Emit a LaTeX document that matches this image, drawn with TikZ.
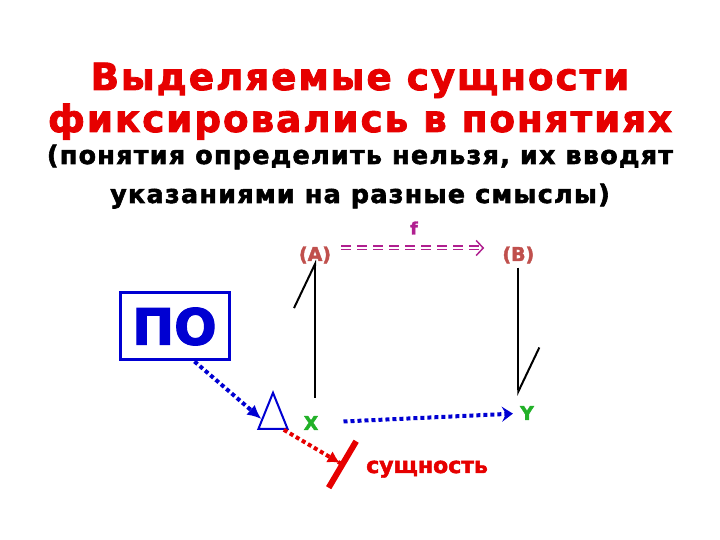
\documentclass[tikz,border=0pt]{standalone}
\usepackage{fontspec}
\setmainfont{DejaVu Sans}[BoldFeatures={FakeBold=2.2}]
\newfontfamily\subfont{DejaVu Sans}[BoldFeatures={FakeBold=2.2,LetterSpace=5}]
\usepackage{xcolor}
\usepackage{tikz}
\usetikzlibrary{arrows.meta}
\usetikzlibrary{shapes.geometric}
\usetikzlibrary{positioning}
\definecolor{hdred}{RGB}{230,0,0}
\definecolor{ptbrown}{RGB}{192,80,77}
\definecolor{fmag}{RGB}{176,32,144}
\definecolor{vargreen}{RGB}{34,177,40}
\definecolor{poblue}{RGB}{0,0,210}

\begin{document}
\begin{tikzpicture}[x=1pt,y=1pt,auto,node distance=2cm]
 				 \tikzstyle{hd}=[text=hdred, inner sep=0pt, anchor=base, font=\subfont\fontsize{37.4}{38}\selectfont\bfseries]
 				 \tikzstyle{sub}=[text=black, inner sep=0pt, anchor=base, font=\subfont\fontsize{25.4}{26}\selectfont\bfseries]
 				 \tikzstyle{pt}=[inner sep=0pt, text=ptbrown, font=\fontsize{19}{19}\selectfont\bfseries]
 				 \tikzstyle{var}=[inner sep=0pt, text=vargreen, font=\fontsize{19}{19}\selectfont\bfseries]
 				 \tikzstyle{stem}=[line width=2pt, -{Straight Barb[left,length=44pt,width=42pt]}]
 				 \tikzstyle{dots}=[line width=4pt, dash pattern=on 4pt off 3pt]
 				 \useasboundingbox (0,0) rectangle (720,540);
 					 \node[hd] 			(T1) at (360,450)      {Выделяемые сущности};
  					 \node[hd]         (T2) at (360,408) {фиксировались в понятиях};
  					 \node[sub]        (S1) at (360,376) {(понятия определить нельзя, их вводят};
  					 \node[sub]        (S2) at (360,337) {указаниями на разные смыслы)};
  					 \node[pt]         (A) at (315,285) {(A)};
  					 \node[pt]         (B) [right=171pt of A] {(B)};
					\node[inner sep=0pt, text=fmag, font=\fontsize{17}{17}\selectfont\bfseries] (F) at (414,312) {f};
					\node[var]		  (X) at (311,117) {X};
					\node[var]		  (Y) at (527,127) {Y};
  					 \node[draw=poblue, line width=3pt, minimum width=109pt, minimum height=67pt, text=poblue, font=\fontsize{50}{50}\selectfont\bfseries] (PO) at (174.5,213.5) {ПО};
  					 \node[draw=poblue, line width=2pt, isosceles triangle, isosceles triangle apex angle=44, shape border rotate=90, minimum height=36pt, inner sep=0pt] (D) at (273,121) {};
  					 \node[text=hdred, anchor=base west, inner sep=0pt, font=\fontsize{22}{22}\selectfont\bfseries] (E) at (366,67) {сущность};
					\coordinate (C) at (345,74);
 					  \path
							  ([yshift=7pt]A.east) edge [fmag, double, double distance=2pt, line width=1.5pt, dash pattern=on 10pt off 6pt, -{Straight Barb[length=7pt,width=15pt]}, shorten <=10pt, shorten >=18pt] ([yshift=7pt]B.west)
 					 			(A |- X.north) edge [stem, shorten <=18pt] ([yshift=4pt]A.south)
 					 			([yshift=-4pt]B.south) edge [stem, shorten >=10pt] (B |- Y.north)
 					 			([xshift=20pt]PO.south) edge [dots, poblue, -{Latex[length=14pt,width=13pt]}] (D.west)
 					 			(D.south east) edge [dots, hdred, -{Latex[length=12pt,width=13pt] Bar[width=54pt,line width=6pt]}] (C)
 					 			(X) edge [dots, poblue, shorten <=25pt, shorten >=7pt, -{Stealth[length=11pt,width=15pt,inset=4pt]}] (Y);
				\end{tikzpicture}
\end{document}
